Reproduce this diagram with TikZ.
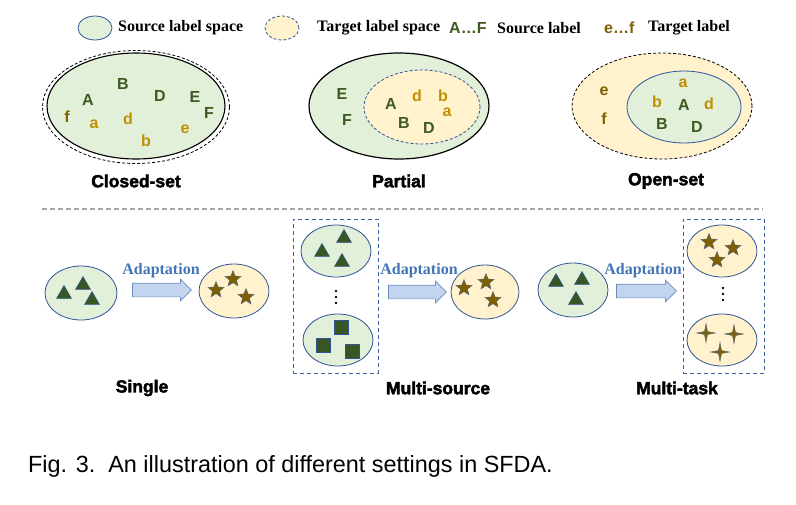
\documentclass[tikz,border=0pt]{standalone}
\usepackage{fontspec}
\setmainfont{Liberation Serif}
\newfontfamily\arialf{Liberation Sans}
\newfontfamily\heavyf{Liberation Sans Bold}[FakeBold=2.5]
\usetikzlibrary{shapes.geometric,shapes.arrows}
\definecolor{srcfill}{HTML}{E2EFD9}
\definecolor{tgtfill}{HTML}{FFF2CC}
\definecolor{ublue}{HTML}{2F5597}
\definecolor{lgreen}{HTML}{3D5A1F}
\definecolor{trig}{HTML}{375623}
\definecolor{gold}{HTML}{BF9000}
\definecolor{dbrown}{HTML}{7F6000}
\definecolor{adblue}{HTML}{4475B8}
\definecolor{arrfill}{HTML}{C3D5EE}
\definecolor{arrdraw}{HTML}{6C8EBF}
\definecolor{boxc}{HTML}{4062A0}
\definecolor{sepc}{HTML}{A6A6A6}
\tikzset{
  sell/.style={ellipse, draw=ublue, line width=0.8pt, fill=srcfill, inner sep=0pt},
  tell/.style={ellipse, draw=ublue, line width=0.8pt, fill=tgtfill, inner sep=0pt},
  fdash/.style={dash pattern=on 3pt off 2pt},
  lab/.style={font=\arialf\bfseries\fontsize{16}{16}\selectfont, inner sep=0pt},
  up/.style={lab, text=lgreen},
  lo/.style={lab, text=gold},
  lod/.style={lab, text=dbrown},
  legt/.style={font=\bfseries\fontsize{16}{16}\selectfont, inner sep=0pt, anchor=west},
  setname/.style={font=\heavyf\fontsize{17.5}{17.5}\selectfont, inner sep=0pt},
  adapt/.style={font=\bfseries\fontsize{16}{16}\selectfont, text=adblue, inner sep=0pt},
  arr/.style={single arrow, single arrow head extend=4pt, inner xsep=0pt, inner ysep=6.5pt, fill=arrfill, draw=arrdraw, line width=0.7pt},
  tri/.style={regular polygon, regular polygon sides=3, minimum size=17pt, inner sep=0pt, fill=trig, draw=ublue, line width=0.5pt},
  sqr/.style={rectangle, minimum size=13.5pt, inner sep=0pt, fill=trig, draw=ublue, line width=0.5pt},
  stfive/.style={star, star points=5, star point ratio=2.3, minimum size=17pt, inner sep=0pt, fill=dbrown, draw=ublue!60!gray, line width=0.4pt},
  stfour/.style={star, star points=4, star point ratio=4.5, minimum size=19pt, inner sep=0pt, fill=dbrown, draw=ublue!60!gray, line width=0.4pt},
  dbox/.style={draw=boxc, line width=0.9pt, dash pattern=on 4pt off 3pt, inner sep=0pt},
  dotc/.style={circle, fill=black, minimum size=2.6pt, inner sep=0pt}
}
\begin{document}
\begin{tikzpicture}[x=1pt,y=-1pt]
\useasboundingbox (0,0) rectangle (796,504);
% legend
\node[sell, minimum width=34pt, minimum height=24pt] (legS) at (95,28) {};
\node[legt] (legSt) at (118,28) {Source label space};
\node[tell, fdash, minimum width=34pt, minimum height=24pt] (legT) at (282,28) {};
\node[legt] (legTt) at (317,28) {Target label space};
\node[up, anchor=west] (legA) at (449,28) {A\ldots F};
\node[legt] (legAt) at (497,28) {Source label};
\node[lod, anchor=west] (lege) at (604,28) {e\ldots f};
\node[legt] (leget) at (648,28) {Target label};
% closed-set
\node[ellipse, draw=black, line width=0.8pt, fdash, fill=white, minimum width=187pt, minimum height=113pt, inner sep=0pt] (cso) at (136,107) {};
\node[ellipse, draw=black, line width=1.1pt, fill=srcfill, minimum width=178pt, minimum height=106pt, inner sep=0pt] (csi) at (136,106) {};
\node[up] (cB) at (123,84) {B};
\node[up] (cA) at (88,100) {A};
\node[up] (cD) at (160,96) {D};
\node[up] (cE) at (195,97) {E};
\node[up] (cF) at (209,113) {F};
\node[lod] (cf) at (67,117) {f};
\node[lo] (ca) at (94,124) {a};
\node[lo] (cd) at (128,119) {d};
\node[lo] (cb) at (146,141) {b};
\node[lo] (ce) at (185,129) {e};
\node[setname] (cname) at (136,181) {Closed-set};
% partial
\node[ellipse, draw=black, line width=1.2pt, fill=srcfill, minimum width=180pt, minimum height=106pt, inner sep=0pt] (po) at (399,106) {};
\node[tell, fdash, minimum width=116pt, minimum height=74pt] (pi) at (422,107) {};
\node[up] (pE) at (342,94) {E};
\node[up] (pF) at (347,120) {F};
\node[up] (pA) at (391,104) {A};
\node[lo] (pd) at (417,96) {d};
\node[lo] (pb) at (443,96) {b};
\node[lo] (pa) at (447,112) {a};
\node[up] (pB) at (404,123) {B};
\node[up] (pD) at (429,128) {D};
\node[setname] (pname) at (399,181) {Partial};
% open-set
\node[ellipse, draw=black, line width=0.8pt, fdash, fill=tgtfill, minimum width=180pt, minimum height=106pt, inner sep=0pt] (oo) at (662,106) {};
\node[sell, minimum width=114pt, minimum height=72pt] (oi) at (684,107) {};
\node[lod] (oe) at (604,91) {e};
\node[lod] (of) at (604,119) {f};
\node[lo] (oa) at (683,83) {a};
\node[lo] (ob) at (657,102) {b};
\node[up] (oA) at (684,105) {A};
\node[lo] (od) at (709,104) {d};
\node[up] (oB) at (662,124) {B};
\node[up] (oD) at (697,127) {D};
\node[setname] (oname) at (666,181) {Open-set};
% separator
\coordinate (sepL) at (42,209);
\coordinate (sepR) at (763,209);
\draw[sepc, line width=1.1pt, dash pattern=on 5pt off 3pt] (sepL) -- (sepR);
% single
\node[sell, minimum width=72pt, minimum height=54pt] (s1) at (81,293) {};
\node[tri] (s1a) at (64,294) {};
\node[tri] (s1b) at (83,285) {};
\node[tri] (s1c) at (92,300) {};
\node[adapt] (ad1) at (161,271) {Adaptation};
\node[arr, minimum height=59pt] (ar1) at (158.5,290) {};
\node[tell, minimum width=70pt, minimum height=54pt] (t1) at (234,291) {};
\node[stfive] (t1a) at (216,290) {};
\node[stfive] (t1b) at (233,279) {};
\node[stfive] (t1c) at (246,297) {};
\node[setname] (sname) at (142,388) {Single};
% multi-source
\node[dbox, minimum width=85pt, minimum height=154pt] (box1) at (335.5,296) {};
\node[sell, minimum width=70pt, minimum height=52pt] (s2a) at (336,251) {};
\node[tri] (s2a1) at (322,252) {};
\node[tri] (s2a2) at (344,238) {};
\node[tri] (s2a3) at (342,262) {};
\node[dotc] (d1a) at (336,291) {};
\node[dotc] (d1b) at (336,297) {};
\node[dotc] (d1c) at (336,303) {};
\node[sell, minimum width=70pt, minimum height=52pt] (s2b) at (338,340) {};
\node[sqr] (s2b1) at (341,327) {};
\node[sqr] (s2b2) at (323,345) {};
\node[sqr] (s2b3) at (352,351) {};
\node[adapt] (ad2) at (419,271) {Adaptation};
\node[arr, minimum height=58pt] (ar2) at (414,292) {};
\node[tell, minimum width=68pt, minimum height=54pt] (t2) at (485,292) {};
\node[stfive] (t2a) at (464,288) {};
\node[stfive] (t2b) at (486,282) {};
\node[stfive] (t2c) at (493,300) {};
\node[setname] (msname) at (438,388) {Multi-source};
% multi-task
\node[sell, minimum width=70pt, minimum height=54pt] (s3) at (573,290) {};
\node[tri] (s3a) at (556,282) {};
\node[tri] (s3b) at (582,280) {};
\node[tri] (s3c) at (576,300) {};
\node[adapt] (ad3) at (643,271) {Adaptation};
\node[arr, minimum height=60pt] (ar3) at (643,291) {};
\node[dbox, minimum width=81pt, minimum height=154pt] (box2) at (723.5,296) {};
\node[tell, minimum width=70pt, minimum height=52pt] (t3a) at (722,251) {};
\node[stfive] (t3a1) at (709,242) {};
\node[stfive] (t3a2) at (733,248) {};
\node[stfive] (t3a3) at (717,260) {};
\node[dotc] (d2a) at (723,288) {};
\node[dotc] (d2b) at (723,294) {};
\node[dotc] (d2c) at (723,300) {};
\node[tell, minimum width=70pt, minimum height=52pt] (t3b) at (722,340) {};
\node[stfour] (t3b1) at (706,333) {};
\node[stfour] (t3b2) at (734,334) {};
\node[stfour] (t3b3) at (720,352) {};
\node[setname] (mtname) at (677,388) {Multi-task};
% caption
\node[font=\arialf\fontsize{23.4}{23.4}\selectfont, anchor=west, inner sep=0pt] (cap) at (28,466) {Fig. 3.\ \ An illustration of different settings in SFDA.};
\end{tikzpicture}
\end{document}
